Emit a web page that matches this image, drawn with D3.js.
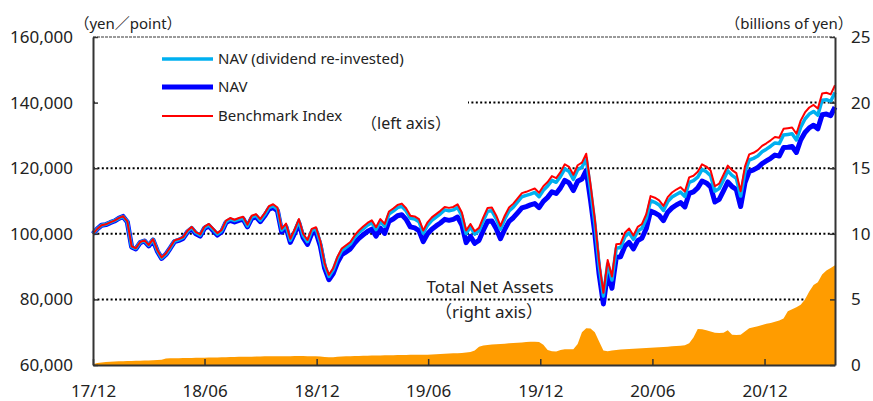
<!DOCTYPE html>
<html>
<head>
<meta charset="utf-8">
<script src="https://cdn.jsdelivr.net/npm/d3@7"></script>
<style>
body { margin: 0; background: #fff; }
svg text { font-family: "Noto Sans", "Noto Sans CJK JP", sans-serif; fill: #222; }
</style>
</head>
<body>
<script>
// weekly values (Fridays) from 2017/12/01 to 2021/03/26
var benchmark = [
  100000,101500,102600,102900,103500,104000,104800,105400,103800,96200,
  95600,97500,98000,96600,98400,95000,92800,94000,95900,98000,
  98400,99000,100900,102100,100500,99800,102200,103000,101600,100200,
  101200,104000,104800,104300,104800,105200,102800,105500,106000,104500,
  106200,108400,109000,108000,101500,103100,98500,101300,104500,100000,
  98100,101500,102000,97800,91000,87500,89500,93000,95500,96500,
  97500,99500,101000,102200,103300,104100,102000,104500,103000,106800,
  107700,108800,109200,107800,105500,105300,104500,101000,103500,105000,
  106000,107000,108200,107900,108200,109000,106500,101000,103000,100800,
  101800,105000,107900,108000,105600,102400,105500,108000,109200,110800,
  112400,112800,113300,113800,112500,114500,115800,117600,117000,118800,
  121200,120400,118000,120900,121700,124400,115000,104500,91500,82000,
  92000,87000,96800,97000,100300,101600,99500,102100,103000,106000,
  111500,111000,110200,108500,111200,112600,113500,114200,112900,117200,
  117700,118900,121200,120500,119300,114500,115300,118000,120800,119400,
  118500,113000,120500,124200,124700,125500,126800,127600,128500,129500,
  129300,132000,132200,132400,130500,134500,137000,138500,139300,138200,
  142800,143000,142500,145300
];

var navReinvested = [
  100000,101500,102600,102900,103500,104000,104700,105300,103700,96100,
  95500,97400,97900,96500,98300,94900,92600,93800,95700,97800,
  98200,98800,100700,101900,100300,99600,101900,102700,101300,99900,
  100900,103700,104500,104000,104400,104800,102400,105100,105600,104100,
  105800,108000,108500,107500,101100,102600,98000,100800,104000,99500,
  97600,101000,101500,97300,90500,87000,89000,92500,94900,95900,
  96900,98900,100400,101500,102600,103400,101300,103800,102300,106000,
  106900,108000,108400,107000,104700,104500,103700,100200,102600,104100,
  105100,106100,107300,107000,107300,108000,105500,100100,102100,99900,
  100900,104000,106900,107000,104600,101400,104500,107000,108100,109700,
  111300,111700,112100,112600,111300,113300,114600,116300,115700,117500,
  119800,119000,116600,119500,120300,122900,113600,103200,90400,81000,
  90900,85900,95600,95800,99100,100300,98300,100800,101700,104700,
  110100,109600,108800,107100,109800,111200,112000,112700,111400,115700,
  116200,117300,119600,118900,117700,113000,113800,116400,119200,117800,
  116900,111500,118800,122500,123000,123700,125000,125800,126700,127700,
  127500,130100,130300,130500,128600,132500,135000,136500,137300,136200,
  140700,140900,140400,143100
];

var nav = [
  100000,101500,102600,102800,103400,103900,104700,105300,103600,96000,
  95400,97300,97800,96300,98100,94700,92500,93700,95600,97600,
  98000,98600,100500,101600,100000,99300,101700,102400,101000,99600,
  100600,103400,104100,103600,104100,104500,102100,104700,105200,103700,
  105400,107500,108000,107000,100500,102000,97400,100100,103200,98800,
  96800,100100,100500,96300,89500,86000,87900,91200,93600,94500,
  95400,97200,98600,99700,100700,101400,99300,101700,100100,103800,
  104500,105500,105800,104400,102100,101800,101000,97600,100000,101400,
  102400,103300,104400,104100,104400,105100,102700,97300,99200,97100,
  98000,101100,103800,103900,101600,98500,101400,103800,104900,106400,
  107900,108300,108800,109200,108000,109900,111100,112800,112300,114000,
  116300,115500,113200,116000,116700,119300,110300,100200,87700,78600,
  88200,83400,92800,93000,96200,97400,95400,97900,98700,101600,
  106900,106400,105600,104000,106600,107900,108800,109500,108200,112300,
  112800,114000,116100,115500,114300,109700,110500,113100,115800,114400,
  113500,108300,115500,119000,119500,120200,121400,122200,123000,124000,
  123700,126300,126400,126600,124800,128600,130900,132300,133100,132000,
  136300,136500,136000,138600
];

// total net assets, billions of yen
var netAssets = [
  0.05,0.15,0.20,0.22,0.25,0.27,0.28,0.29,0.30,0.31,
  0.32,0.33,0.34,0.35,0.36,0.38,0.40,0.50,0.51,0.52,
  0.52,0.53,0.53,0.54,0.55,0.55,0.56,0.57,0.58,0.58,
  0.59,0.60,0.61,0.61,0.62,0.62,0.63,0.63,0.64,0.65,
  0.66,0.66,0.67,0.67,0.66,0.67,0.67,0.68,0.69,0.68,
  0.67,0.67,0.66,0.64,0.61,0.59,0.60,0.62,0.64,0.66,
  0.67,0.68,0.69,0.70,0.71,0.72,0.72,0.73,0.74,0.74,
  0.75,0.76,0.77,0.77,0.78,0.78,0.79,0.79,0.79,0.80,
  0.82,0.84,0.86,0.88,0.89,0.90,0.92,0.95,1.00,1.10,
  1.40,1.48,1.52,1.56,1.58,1.60,1.62,1.65,1.68,1.70,
  1.72,1.75,1.77,1.78,1.76,1.55,1.15,1.05,1.02,1.15,
  1.20,1.20,1.21,1.60,2.50,2.80,2.78,2.50,1.80,1.10,
  1.05,1.10,1.15,1.18,1.20,1.22,1.24,1.26,1.28,1.30,
  1.32,1.34,1.36,1.38,1.40,1.42,1.44,1.46,1.50,1.65,
  2.10,2.75,2.72,2.65,2.55,2.45,2.43,2.46,2.65,2.30,
  2.28,2.30,2.55,2.80,2.88,2.95,3.05,3.15,3.20,3.30,
  3.40,3.55,4.10,4.25,4.40,4.60,5.00,5.60,6.10,6.30,
  6.90,7.20,7.40,7.60
];

var xTickDates = ["2017-12-01","2018-06-01","2018-12-01","2019-06-01","2019-12-01","2020-06-01","2020-12-01"];
var xTickLabels = ["17/12","18/06","18/12","19/06","19/12","20/06","20/12"];
var leftTicks = [60000,80000,100000,120000,140000,160000];
var gridValues = [80000,100000,120000,140000];
var rightTicks = [0,5,10,15,20,25];

var legendNames = ["NAV (dividend re-invested)", "NAV", "Benchmark Index"];
var seriesColors = ["#00b0f0", "#0000ff", "#ff0000"];

var width = 873, height = 401;
// plot box (note: "top" is taken by window, so use x0/x1/y0/y1)
var plotX0 = 93, plotX1 = 835, plotY0 = 37, plotY1 = 365;

// one date per weekly value
var dates = d3.timeFriday.range(new Date(2017, 11, 1), new Date(2021, 2, 27));
var parse = d3.timeParse("%Y-%m-%d");

var x = d3.scaleTime()
  .domain([dates[0], dates[dates.length - 1]])
  .range([plotX0, plotX1]);
var yL = d3.scaleLinear().domain([60000, 160000]).range([plotY1, plotY0]);
var yR = d3.scaleLinear().domain([0, 25]).range([plotY1, plotY0]);

var svg = d3.select("body").append("svg")
  .attr("width", width)
  .attr("height", height);

// dotted gridlines
svg.append("g").selectAll("line")
  .data(gridValues)
  .enter().append("line")
  .attr("x1", plotX0).attr("x2", plotX1)
  .attr("y1", function(d) { return yL(d); })
  .attr("y2", function(d) { return yL(d); })
  .attr("stroke", "#000")
  .attr("stroke-width", 2)
  .attr("stroke-dasharray", "2,2.4");

// white box behind legend hides the grid there
svg.append("rect")
  .attr("x", plotX0 + 3).attr("y", 42)
  .attr("width", 372).attr("height", 95)
  .attr("fill", "#fff");

// total net assets area (right axis)
var area = d3.area()
  .x(function(d, i) { return x(dates[i]); })
  .y0(plotY1)
  .y1(function(d) { return yR(d); });

svg.append("path")
  .datum(netAssets)
  .attr("d", area)
  .attr("fill", "#ff9c00");

// lines: NAV below, reinvested NAV, benchmark on top
var line = d3.line()
  .x(function(d, i) { return x(dates[i]); })
  .y(function(d) { return yL(d); });

var lineData = [
  {values: nav, color: seriesColors[1], w: 5},
  {values: navReinvested, color: seriesColors[0], w: 3.5},
  {values: benchmark, color: seriesColors[2], w: 2}
];

svg.append("g").selectAll("path")
  .data(lineData)
  .enter().append("path")
  .attr("d", function(d) { return line(d.values); })
  .attr("fill", "none")
  .attr("stroke", function(d) { return d.color; })
  .attr("stroke-width", function(d) { return d.w; })
  .attr("stroke-linejoin", "round");

// top border, dashed grey
svg.append("line")
  .attr("x1", plotX0).attr("x2", plotX1)
  .attr("y1", plotY0).attr("y2", plotY0)
  .attr("stroke", "#9a9a9a")
  .attr("stroke-width", 2)
  .attr("stroke-dasharray", "3,1");

// axes
function styleAxis(g) {
  g.attr("font-family", null).attr("font-size", 17).attr("color", "#333");
  g.select(".domain").attr("stroke-width", 2);
  g.selectAll(".tick line").attr("stroke-width", 1.5);
}

svg.append("g")
  .attr("transform", "translate(" + plotX0 + ",0)")
  .call(d3.axisLeft(yL).tickValues(leftTicks).tickSize(-5).tickSizeOuter(0)
    .tickPadding(20).tickFormat(d3.format(",")))
  .call(styleAxis);

svg.append("g")
  .attr("transform", "translate(" + plotX1 + ",0)")
  .call(d3.axisRight(yR).tickValues(rightTicks).tickSize(-5).tickSizeOuter(0)
    .tickPadding(16))
  .call(styleAxis);

svg.append("g")
  .attr("transform", "translate(0," + plotY1 + ")")
  .call(d3.axisBottom(x).tickValues(xTickDates.map(parse)).tickSize(-6).tickSizeOuter(0)
    .tickPadding(20).tickFormat(function(d, i) { return xTickLabels[i]; }))
  .call(styleAxis);

svg.selectAll(".tick text").attr("fill", "#222");

// unit labels
svg.append("text").attr("x", 128).attr("y", 29)
  .attr("text-anchor", "middle").attr("font-size", 15)
  .text("（yen／point）");
svg.append("text").attr("x", 789).attr("y", 29)
  .attr("text-anchor", "middle").attr("font-size", 15)
  .text("（billions of yen）");

// legend
var legendY = [59, 87, 116];
var legendW = [3.5, 5, 1.8];
var lg = svg.append("g");
legendNames.forEach(function(name, i) {
  lg.append("line")
    .attr("x1", 162).attr("x2", 213)
    .attr("y1", legendY[i]).attr("y2", legendY[i])
    .attr("stroke", seriesColors[i])
    .attr("stroke-width", legendW[i]);
  lg.append("text")
    .attr("x", 218).attr("y", legendY[i] + 5)
    .attr("font-size", 15)
    .text(name);
});

svg.append("text").attr("x", 406).attr("y", 129)
  .attr("text-anchor", "middle").attr("font-size", 16)
  .text("（left axis）");

svg.append("text").attr("x", 490).attr("y", 293)
  .attr("text-anchor", "middle").attr("font-size", 17)
  .text("Total Net Assets");
svg.append("text").attr("x", 489).attr("y", 318)
  .attr("text-anchor", "middle").attr("font-size", 17)
  .text("（right axis）");
</script>
</body>
</html>
